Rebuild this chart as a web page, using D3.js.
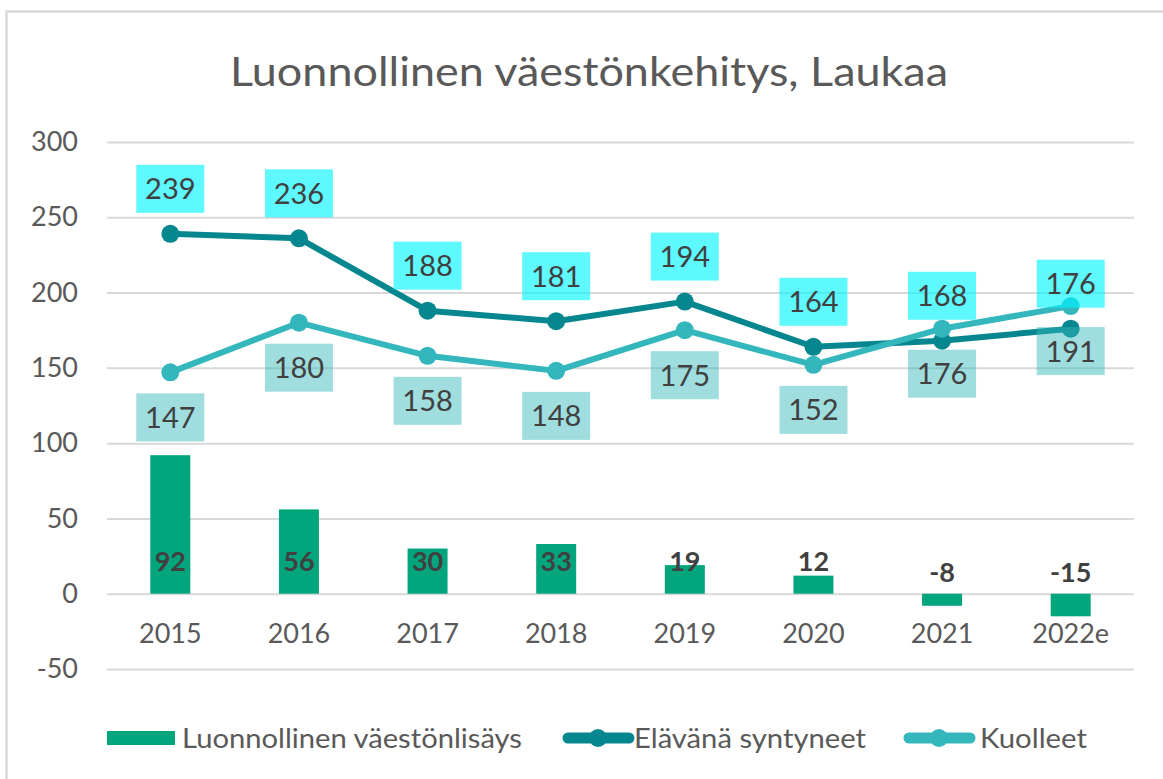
<!DOCTYPE html>
<html>
<head>
<meta charset="utf-8">
<script src="https://cdn.jsdelivr.net/npm/d3@7/dist/d3.min.js"></script>
<style>
  body { margin: 0; background: #fff; }
  svg { display: block; font-family: Lato, "Open Sans", sans-serif; }
</style>
</head>
<body>
<svg id="chart" width="1163" height="779"></svg>
<script>
// data
var years = ["2015", "2016", "2017", "2018", "2019", "2020", "2021", "2022e"];
var lisays = [92, 56, 30, 33, 19, 12, -8, -15];      // Luonnollinen väestönlisäys
var syntyneet = [239, 236, 188, 181, 194, 164, 168, 176]; // Elävänä syntyneet
var kuolleet = [147, 180, 158, 148, 175, 152, 176, 191];  // Kuolleet
var yTicks = [-50, 0, 50, 100, 150, 200, 250, 300];

var svg = d3.select("#chart");

// outer frame (right/bottom edges fall outside the picture)
svg.append("rect")
  .attr("x", 6.5).attr("y", 11.5)
  .attr("width", 1170).attr("height", 780)
  .attr("fill", "none").attr("stroke", "#d9d9d9").attr("stroke-width", 2.5);

svg.append("text")
  .attr("x", 589).attr("y", 86)
  .attr("text-anchor", "middle")
  .attr("font-size", 40)
  .attr("fill", "#595959")
  .attr("textLength", 718).attr("lengthAdjust", "spacingAndGlyphs")
  .text("Luonnollinen väestönkehitys, Laukaa");

var x = d3.scaleBand().domain(years).range([106, 1135]);
var y = d3.scaleLinear().domain([-50, 300]).range([669, 142]);
var cx = function (d) { return x(d) + x.bandwidth() / 2; };

// y axis + gridlines
var yAxis = svg.append("g")
  .attr("transform", "translate(107,0)")
  .call(d3.axisLeft(y).tickValues(yTicks).tickFormat(function (d) { return String(d); })
    .tickSize(-1027).tickPadding(29));
yAxis.select(".domain").remove();
yAxis.selectAll("line").attr("stroke", "#d9d9d9").attr("stroke-width", 2);
yAxis.selectAll("text")
  .attr("font-size", 27).attr("fill", "#595959")
  .attr("font-family", "Lato, sans-serif");

// x axis labels
var xAxis = svg.append("g")
  .attr("transform", "translate(0," + y(0) + ")")
  .call(d3.axisBottom(x).tickSize(0).tickPadding(30));
xAxis.select(".domain").remove();
xAxis.selectAll("text")
  .attr("font-size", 27).attr("fill", "#595959")
  .attr("font-family", "Lato, sans-serif");

// bars
var barW = 40;
svg.append("g").selectAll("rect")
  .data(lisays).enter().append("rect")
  .attr("x", function (d, i) { return cx(years[i]) - barW / 2; })
  .attr("y", function (d) { return Math.min(y(d), y(0)); })
  .attr("width", barW)
  .attr("height", function (d) { return Math.abs(y(d) - y(0)); })
  .attr("fill", "#03a57d");

// lines
var lineGen = d3.line()
  .x(function (d, i) { return cx(years[i]); })
  .y(function (d) { return y(d); });

function drawSeries(vals, color) {
  var g = svg.append("g");
  g.append("path").datum(vals)
    .attr("d", lineGen)
    .attr("fill", "none").attr("stroke", color)
    .attr("stroke-width", 6).attr("stroke-linejoin", "round");
  g.selectAll("circle").data(vals).enter().append("circle")
    .attr("cx", function (d, i) { return cx(years[i]); })
    .attr("cy", function (d) { return y(d); })
    .attr("r", 9).attr("fill", color);
}
drawSeries(syntyneet, "#06878f");
drawSeries(kuolleet, "#33b7bc");

// labels in boxes
function boxLabels(vals, offset, fill, op) {
  var g = svg.append("g").selectAll("g")
    .data(vals).enter().append("g")
    .attr("transform", function (d, i) {
      return "translate(" + cx(years[i]) + "," + (y(d) + offset) + ")";
    });
  g.append("rect")
    .attr("x", -34).attr("y", -24).attr("width", 68).attr("height", 48)
    .attr("fill", fill).attr("fill-opacity", op);
  g.append("text")
    .attr("text-anchor", "middle").attr("dy", "0.36em")
    .attr("font-size", 29).attr("fill", "#404040")
    .text(function (d) { return d; });
}
boxLabels(syntyneet, -45, "#00f4ff", 0.63);
boxLabels(kuolleet, 45, "#33b7bc", 0.47);

// bar labels (inside base)
svg.append("g").selectAll("text")
  .data(lisays).enter().append("text")
  .attr("x", function (d, i) { return cx(years[i]); })
  .attr("y", function (d) { return y(0) - (d >= 0 ? 32 : 21); })
  .attr("dy", "0.36em")
  .attr("text-anchor", "middle")
  .attr("font-size", 27).attr("font-weight", "bold")
  .attr("fill", "#404040")
  .text(function (d) { return d; });

// legend
var leg = svg.append("g").attr("font-size", 27).attr("fill", "#595959");
leg.append("rect").attr("x", 107).attr("y", 731).attr("width", 68).attr("height", 14).attr("fill", "#03a57d");
leg.append("text").attr("x", 182).attr("y", 748)
  .attr("textLength", 340).attr("lengthAdjust", "spacingAndGlyphs")
  .text("Luonnollinen väestönlisäys");

leg.append("line").attr("x1", 568).attr("x2", 629).attr("y1", 738).attr("y2", 738)
  .attr("stroke", "#06878f").attr("stroke-width", 11).attr("stroke-linecap", "round");
leg.append("circle").attr("cx", 598).attr("cy", 738).attr("r", 9).attr("fill", "#06878f");
leg.append("text").attr("x", 634).attr("y", 748)
  .attr("textLength", 232).attr("lengthAdjust", "spacingAndGlyphs")
  .text("Elävänä syntyneet");

leg.append("line").attr("x1", 909).attr("x2", 970).attr("y1", 738).attr("y2", 738)
  .attr("stroke", "#33b7bc").attr("stroke-width", 11).attr("stroke-linecap", "round");
leg.append("circle").attr("cx", 939).attr("cy", 738).attr("r", 9).attr("fill", "#33b7bc");
leg.append("text").attr("x", 980).attr("y", 748)
  .attr("textLength", 107).attr("lengthAdjust", "spacingAndGlyphs")
  .text("Kuolleet");
</script>
</body>
</html>
